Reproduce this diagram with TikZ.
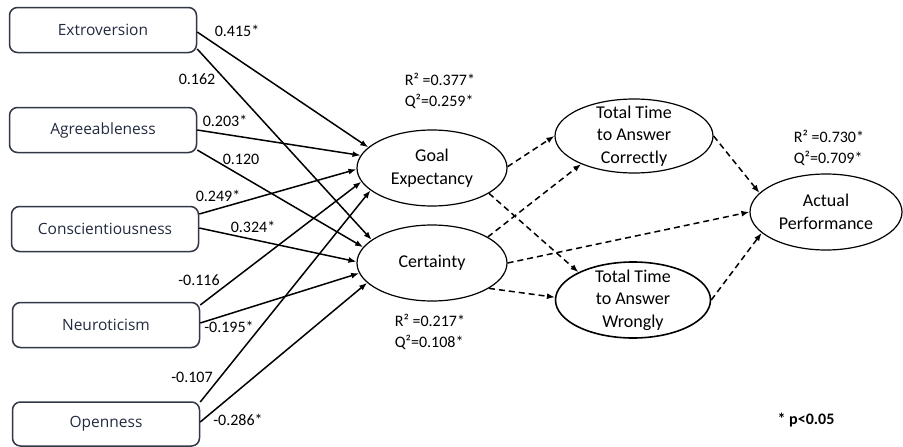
\documentclass[tikz,border=0pt]{standalone}
\usepackage{fontspec}
\setmainfont{Carlito}
\newfontfamily\boxfont{Open Sans}
\usetikzlibrary{arrows.meta,shapes.geometric}
\definecolor{boxtext}{RGB}{34,42,64}
\definecolor{boxline}{RGB}{50,55,70}
\begin{document}
\begin{tikzpicture}[x=1pt,y=-1pt,
 trait/.style={draw=boxline, line width=1.5pt, rounded corners=8pt, minimum width=187pt, minimum height=45pt, inner sep=0pt, font=\boxfont\fontsize{15.5}{18}\selectfont, text=boxtext},
 lattext/.style={font=\fontsize{18}{22.5}\selectfont, align=center, inner sep=0pt},
 latent/.style={ellipse, draw, line width=1.2pt, inner sep=0pt, label={[lattext]center:#1}},
 coef/.style={font=\fontsize{16}{19}\selectfont, inner sep=0pt},
 stat/.style={font=\fontsize{16}{20.5}\selectfont, align=left, inner sep=0pt},
 solidarrow/.style={line width=1.5pt, -{Latex[length=8pt,width=6pt]}},
 dasharrow/.style={solidarrow, dash pattern=on 6pt off 4pt},
]
\useasboundingbox (0,0) rectangle (903,447);

% traits
\node[trait] (ext) at (103,30) {Extroversion};
\node[trait] (agr) at (103,130) {Agreeableness};
\node[trait] (con) at (105,229) {Conscientiousness};
\node[trait] (neu) at (106,325) {Neuroticism};
\node[trait, minimum height=44pt] (ope) at (106,424) {Openness};

% latent variables
\node[latent={Goal\\Expectancy}, minimum width=150pt, minimum height=76pt] (goal) at (432,168) {};
\node[latent={Certainty}, minimum width=150pt, minimum height=76pt] (cert) at (432,263) {};
\node[latent={Total Time\\to Answer\\Correctly}, minimum width=158pt, minimum height=74pt] (ttc) at (634,136) {};
\node[latent={Total Time\\to Answer\\Wrongly}, minimum width=155pt, minimum height=76pt, line width=1.6pt] (ttw) at (633,300) {};
\node[latent={Actual\\Performance}, minimum width=152pt, minimum height=76pt] (act) at (826,212) {};

% solid paths
\draw[solidarrow] ([yshift=-2pt]ext.east) -- (goal.162);
\draw[solidarrow] ([yshift=-19pt]ext.east) -- (cert.159);
\draw[solidarrow] (agr.east) -- (goal.170);
\draw[solidarrow] ([yshift=-20pt]agr.east) -- (cert.167);
\draw[solidarrow] ([yshift=15pt]con.east) -- (goal.181);
\draw[solidarrow] ([yshift=1pt]con.east) -- (cert.179);
\draw[solidarrow] ([yshift=20pt]neu.east) -- (goal.191);
\draw[solidarrow] ([yshift=2pt]neu.east) -- (cert.188);
\draw[solidarrow] ([yshift=22pt]ope.east) -- (goal.200);
\draw[solidarrow] ([yshift=2pt]ope.east) -- (cert.197);

% dashed paths
\draw[dasharrow] (goal.1) -- (ttc.180);
\draw[dasharrow] (goal.336) -- (ttw.153);
\draw[dasharrow] (cert.25) -- (ttc.208);
\draw[dasharrow] (cert.336) -- (ttw.178);
\draw[dasharrow] (cert.0) -- (act.180);
\draw[dasharrow] (ttc.0) -- (act.164);
\draw[dasharrow] (ttw.0) -- (act.198);

% coefficients
\node[coef] (c1) at (237,31) {0.415*};
\node[coef] (c2) at (197,79) {0.162};
\node[coef] (c3) at (225,121) {0.203*};
\node[coef] (c4) at (241,159) {0.120};
\node[coef] (c5) at (218,196) {0.249*};
\node[coef] (c6) at (253,227) {0.324*};
\node[coef] (c7) at (199,280) {-0.116};
\node[coef] (c8) at (229,327) {-0.195*};
\node[coef] (c9) at (192,377) {-0.107};
\node[coef] (c10) at (238,420) {-0.286*};

% statistics
\node[stat] (s1) at (440,91) {R² =0.377*\\Q²=0.259*};
\node[stat] (s2) at (430,332) {R² =0.217*\\Q²=0.108*};
\node[stat] (s3) at (829,148) {R² =0.730*\\Q²=0.709*};
\node[coef, font=\fontsize{16}{19}\selectfont\bfseries] (sig) at (806,420) {* p<0.05};
\end{tikzpicture}
\end{document}
